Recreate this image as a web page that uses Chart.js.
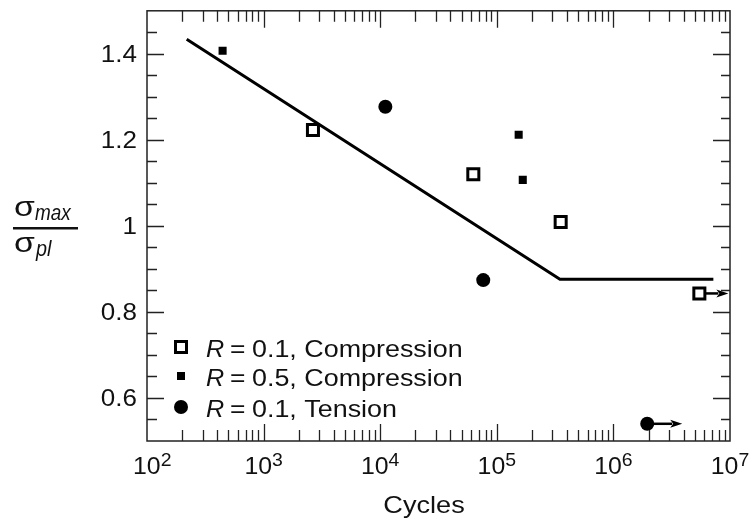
<!DOCTYPE html>
<html>
<head>
<meta charset="utf-8">
<script src="https://cdn.jsdelivr.net/npm/chart.js@4"></script>
<style>
  body { margin: 0; background: #fff; }
</style>
</head>
<body>
<canvas id="chart" width="751" height="521"></canvas>
<script>
// values
const compR01Cycles = [2650, 62900, 353000, 5.46e6];
const compR01Ratio = [1.223, 1.12, 1.009, 0.843];
const compR05Cycles = [445, 154000, 167000];
const compR05Ratio = [1.407, 1.212, 1.107];
const tensR01Cycles = [11070, 76500, 1.95e6];
const tensR01Ratio = [1.277, 0.874, 0.54];
const fitCycles = [219, 348000, 7.2e6];
const fitRatio = [1.434, 0.876, 0.876];
// run-outs, drawn with an arrow
const runoutCycles = [5.46e6, 1.95e6];
const runoutRatio = [0.843, 0.54];

const xDecades = [2, 3, 4, 5, 6, 7];
const yTickLabels = [0.6, 0.8, 1, 1.2, 1.4];
const legendLabels = ["0.1, Compression", "0.5, Compression", "0.1, Tension"];

const FONT = '"Liberation Sans", Arial, Helvetica, sans-serif';

function toPoints(xs, ys) {
  return xs.map((x, i) => ({ x: x, y: ys[i] }));
}

// the original font is a bit wider than Arial, so stretch text sideways
function drawText(ctx, text, x, y, size, style, align, stretch) {
  stretch = stretch || 1.13;
  ctx.save();
  ctx.font = (style ? style + " " : "") + size + "px " + FONT;
  const w = ctx.measureText(text).width * stretch;
  let x0 = x;
  if (align === "center") x0 = x - w / 2;
  else if (align === "right") x0 = x - w;
  ctx.translate(x0, y);
  ctx.scale(stretch, 1);
  ctx.textAlign = "left";
  ctx.textBaseline = "alphabetic";
  ctx.fillStyle = "#111";
  ctx.fillText(text, 0, 0);
  ctx.restore();
  return w;
}

function arrow(ctx, x0, y, x1, headLen, headW) {
  ctx.save();
  ctx.strokeStyle = "#000";
  ctx.fillStyle = "#000";
  ctx.lineWidth = 2.5;
  ctx.beginPath();
  ctx.moveTo(x0, y);
  ctx.lineTo(x1 - headLen + 2, y);
  ctx.stroke();
  ctx.beginPath();
  ctx.moveTo(x1, y);
  ctx.lineTo(x1 - headLen, y - headW);
  ctx.lineTo(x1 - headLen + 3, y);
  ctx.lineTo(x1 - headLen, y + headW);
  ctx.closePath();
  ctx.fill();
  ctx.restore();
}

const decor = {
  id: "decor",
  beforeDatasetsDraw(chart) {
    const ctx = chart.ctx;
    const xs = chart.scales.x, ys = chart.scales.y;
    // run-out arrows
    const lens = [29, 35];
    runoutCycles.forEach((c, i) => {
      const px = xs.getPixelForValue(c), py = ys.getPixelForValue(runoutRatio[i]);
      arrow(ctx, px, py, px + lens[i], 12, 4);
    });
  },
  afterDraw(chart) {
    const ctx = chart.ctx;
    const a = chart.chartArea;
    const xs = chart.scales.x, ys = chart.scales.y;

    ctx.save();
    ctx.strokeStyle = "#222";
    ctx.lineWidth = 1.5;
    ctx.strokeRect(a.left, a.top, a.right - a.left, a.bottom - a.top);

    // inward ticks, y (every 0.05, long at labels)
    ctx.lineWidth = 1.3;
    ctx.beginPath();
    for (let k = 11; k <= 29; k++) {
      const v = k * 0.05;
      const py = Math.round(ys.getPixelForValue(v)) + 0.5;
      const major = k % 4 === 0;
      ctx.moveTo(a.left, py); ctx.lineTo(a.left + (major ? 17 : 10), py);
      ctx.moveTo(a.right, py); ctx.lineTo(a.right - (major ? 17 : 9), py);
    }
    // inward ticks, x (log)
    for (let d = 2; d < 7; d++) {
      for (let m = 1; m <= 10; m++) {
        const v = m * Math.pow(10, d);
        const px = Math.round(xs.getPixelForValue(v)) + 0.5;
        if (px <= a.left + 1 || px >= a.right - 1) continue;
        const len = m === 10 ? 17 : 11;
        ctx.moveTo(px, a.bottom); ctx.lineTo(px, a.bottom - len);
        ctx.moveTo(px, a.top); ctx.lineTo(px, a.top + len);
      }
    }
    ctx.stroke();
    ctx.restore();

    // y tick labels
    yTickLabels.forEach(v => {
      const py = ys.getPixelForValue(v);
      drawText(ctx, String(v), 137, py + 8.5, 23, "", "right");
    });

    // x tick labels 10^n
    xDecades.forEach(n => {
      const px = xs.getPixelForValue(Math.pow(10, n));
      ctx.save();
      ctx.font = "23px " + FONT;
      const wBase = ctx.measureText("10").width * 1.08;
      ctx.font = "18px " + FONT;
      const wSup = ctx.measureText(String(n)).width * 1.08;
      ctx.restore();
      const x0 = Math.max(133, px - (wBase + wSup) / 2);
      drawText(ctx, "10", x0, 474, 23, "", "left", 1.08);
      drawText(ctx, String(n), x0 + wBase, 466, 18, "", "left", 1.08);
    });

    // x title
    drawText(ctx, "Cycles", 424, 513, 24, "", "center");

    // y title: sigma_max / sigma_pl
    drawText(ctx, "\u03c3", 14, 216, 27, "", "left", 1.25);
    drawText(ctx, "max", 35, 220, 22, "italic", "left", 0.86);
    ctx.save();
    ctx.fillStyle = "#111";
    ctx.fillRect(13, 227, 65, 2.5);
    ctx.restore();
    drawText(ctx, "\u03c3", 14, 252, 27, "", "left", 1.25);
    drawText(ctx, "pl", 36, 256, 22, "italic", "left", 0.9);

    // legend
    const rows = [347, 376, 407];
    const mx = 181;
    ctx.save();
    // open square
    ctx.lineWidth = 3;
    ctx.strokeStyle = "#000";
    ctx.fillStyle = "#fff";
    ctx.fillRect(mx - 5.5, rows[0] - 5.5, 11, 11);
    ctx.strokeRect(mx - 5.5, rows[0] - 5.5, 11, 11);
    // small filled square
    ctx.fillStyle = "#000";
    ctx.fillRect(mx - 4, rows[1] - 4, 8, 8);
    // circle
    ctx.beginPath();
    ctx.arc(mx, rows[2], 7, 0, Math.PI * 2);
    ctx.fill();
    ctx.restore();
    legendLabels.forEach((t, i) => {
      const base = rows[i] + 9.5;
      drawText(ctx, "R", 206, base, 24, "italic", "left", 1.05);
      drawText(ctx, "=", 230, base, 24, "", "left", 1.1);
      drawText(ctx, t, 252, base, 24, "", "left", 1.12);
    });
  }
};

new Chart(document.getElementById("chart"), {
  type: "scatter",
  data: {
    datasets: [
      {
        label: "fit",
        data: toPoints(fitCycles, fitRatio),
        showLine: true,
        borderColor: "#000",
        borderWidth: 3,
        pointRadius: 0,
        order: 5
      },
      {
        label: "R = 0.1, Compression",
        data: toPoints(compR01Cycles, compR01Ratio),
        pointStyle: "rect",
        pointRadius: 7.8,
        borderWidth: 3,
        borderColor: "#000",
        backgroundColor: "#fff"
      },
      {
        label: "R = 0.5, Compression",
        data: toPoints(compR05Cycles, compR05Ratio),
        pointStyle: "rect",
        pointRadius: 5.7,
        borderWidth: 0,
        backgroundColor: "#000"
      },
      {
        label: "R = 0.1, Tension",
        data: toPoints(tensR01Cycles, tensR01Ratio),
        pointStyle: "circle",
        pointRadius: 7,
        borderWidth: 0,
        backgroundColor: "#000"
      }
    ]
  },
  options: {
    responsive: false,
    animation: false,
    layout: { padding: { left: 147, right: 21, top: 8, bottom: 80 } },
    scales: {
      x: { type: "logarithmic", min: 100, max: 1e7, display: false },
      y: { type: "linear", min: 0.5, max: 1.5, display: false }
    },
    plugins: {
      legend: { display: false },
      tooltip: { enabled: false }
    }
  },
  plugins: [decor]
});
</script>
</body>
</html>
